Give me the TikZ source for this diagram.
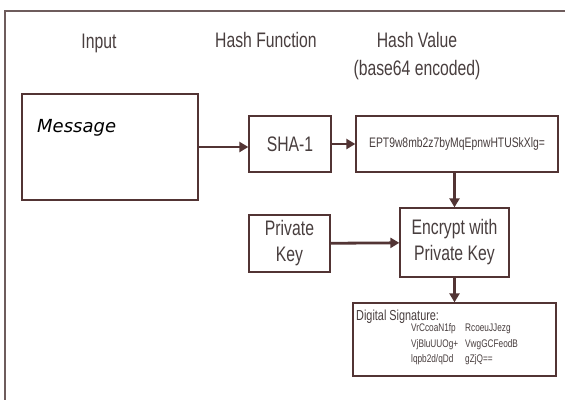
\documentclass[tikz,border=0pt]{standalone}
\usepackage{fontspec}
\setmainfont{Liberation Sans}[FakeStretch=0.75]
\newfontfamily\handfont{DejaVu Sans}
\usepackage{tikz}
\usetikzlibrary{arrows.meta, positioning}
\definecolor{boxbrown}{RGB}{82,52,52}
\definecolor{textgray}{RGB}{72,62,62}
\definecolor{framegray}{RGB}{110,92,92}

\begin{document}
\begin{tikzpicture}[
    x=1pt, y=-1pt,
    box/.style={draw=boxbrown, line width=1.3pt, fill=white, inner sep=0pt, text=textgray, align=center},
    bigbox/.style={box, font=\fontsize{21}{28}\selectfont},
    title/.style={text=textgray, font=\fontsize{21}{28}\selectfont, align=center},
    code/.style={text=textgray, inner sep=0pt, anchor=west, font=\fontsize{11}{13}\selectfont},
    arrow/.style={-{Triangle[length=9pt, width=10pt]}, line width=2.8pt, draw=boxbrown}
]
    \useasboundingbox (0,0) rectangle (565,399);
    % outer frame
    \draw[framegray, line width=1.4pt] (5,405) -- (5,11) -- (570,11);

    % column titles
    \node[title] (tin) at (99,43) {Input};
    \node[title] (tfun) at (266,40) {Hash Function};
    \node[title] (tval) at (417,56) {Hash Value\\(base64 encoded)};

    % input message
    \node[box, minimum width=176pt, minimum height=106pt] (msg) at (110,147) {};
    \node[inner sep=0pt, anchor=west, text=black, font=\handfont\itshape\fontsize{18}{20}\selectfont] (msgtxt) at (37,128) {Message};

    % hash function and value
    \node[bigbox, minimum width=82pt, minimum height=56pt] (sha) at (290,144) {SHA-1};
    \node[box, minimum width=202pt, minimum height=56pt, font=\fontsize{13.8}{16}\selectfont] (hval) at (457,144) {EPT9w8mb2z7byMqEpnwHTUSkXlg=};

    % key and encryption
    \node[bigbox, minimum width=81pt, minimum height=57pt] (pkey) at (289.5,243.5) {Private\\[-2pt]Key};
    \node[bigbox, minimum width=109pt, minimum height=69pt] (enc) at (454.5,242.5) {Encrypt with\\[-2pt]Private Key};

    % digital signature
    \node[box, minimum width=203pt, minimum height=73pt] (sig) at (454.5,339.5) {};
    \node[code, font=\fontsize{14.5}{16}\selectfont] (sigt) at (356,317) {Digital Signature:};
    \node[code] (s1a) at (411,329) {VrCcoaN1fp};
    \node[code] (s1b) at (465,329) {RcoeuJJezg};
    \node[code] (s2a) at (411,345) {VjBluUUOg+};
    \node[code] (s2b) at (465,345) {VwgGCFeodB};
    \node[code] (s3a) at (411,360) {lqpb2d/qDd};
    \node[code] (s3b) at (465,360) {gZjQ==};

    % connectors
    \draw[arrow] (msg) -- (msg -| sha.west);
    \draw[arrow] (sha) -- (hval);
    \draw[arrow] (enc.north |- hval.south) -- (enc.north);
    \draw[arrow] (pkey) -- (enc);
    \draw[arrow] (enc) -- (sig);
\end{tikzpicture}
\end{document}
